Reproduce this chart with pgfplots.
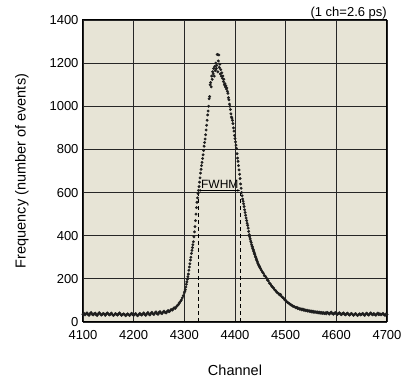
\documentclass[border=0pt]{standalone}
\usepackage{pgfplots}
\pgfplotsset{compat=1.18}
\usepackage{fontspec}
\setmainfont{Liberation Sans}
\usetikzlibrary{arrows.meta}
\definecolor{bg}{RGB}{231,228,214}
\definecolor{dots}{RGB}{30,30,30}
\begin{document}
\begin{tikzpicture}
\begin{axis}[
  at={(0,0)}, anchor=south west,
  scale only axis, width=304pt, height=302pt,
  xmin=4100, xmax=4700, ymin=0, ymax=1400,
  xtick={4100,4200,...,4700}, ytick={0,200,...,1400},
  grid=major, major grid style={black!85, line width=0.75pt},
  major tick length=0pt,
  axis background/.style={fill=bg},
  axis line style={black, line width=1pt},
  /pgf/number format/assume math mode=true,
  /pgf/number format/1000 sep={},
  tick label style={font=\fontsize{13}{15}\selectfont},
  xticklabel style={yshift=-5pt},
  yticklabel style={xshift=-1pt},
  xlabel={Channel}, ylabel={Frequency (number of events)},
  label style={font=\fontsize{14.5}{16}\selectfont},
  xlabel style={at={(axis description cs:0.5,-0.159)}, anchor=center},
  ylabel style={at={(axis description cs:-0.2007,0.5)}, anchor=center},
  clip=false,
]
\addplot[only marks, mark=*, mark size=1.25pt, draw=dots, fill=dots] table {
4100 36
4102 40
4104 33
4106 38
4108 42
4110 35
4112 31
4114 39
4116 44
4118 36
4120 33
4122 38
4124 41
4126 34
4128 30
4130 37
4132 43
4134 38
4136 32
4138 35
4140 40
4142 36
4144 31
4146 38
4148 42
4150 37
4152 33
4154 36
4156 41
4158 35
4160 30
4162 34
4164 39
4166 36
4168 32
4170 37
4172 42
4174 36
4176 31
4178 34
4180 38
4182 35
4184 29
4186 33
4188 38
4190 34
4192 30
4194 36
4196 40
4198 34
4200 31
4202 35
4204 39
4206 33
4208 29
4210 34
4212 40
4214 36
4216 32
4218 37
4220 42
4222 35
4224 31
4226 38
4228 44
4230 37
4232 33
4234 40
4236 45
4238 38
4240 35
4242 42
4244 47
4246 39
4248 36
4250 44
4252 48
4254 41
4256 39
4258 46
4260 50
4262 44
4264 42
4266 49
4268 53
4270 48
4272 52
4274 58
4276 55
4278 60
4280 66
4282 63
4284 70
4286 76
4288 80
4290 88
4292 95
4294 102
4296 112
4298 122
4300 135
4301 142
4302 150
4303 162
4304 175
4305 186
4306 198
4307 210
4308 222
4309 240
4310 255
4311 270
4312 287
4313 300
4314 318
4315 332
4316 345
4317 358
4318 372
4319 395
4320 418
4321 442
4322 470
4323 500
4324 530
4325 555
4326 575
4327 595
4328 610
4329 628
4330 648
4331 668
4332 690
4333 708
4334 725
4335 740
4336 758
4337 775
4338 795
4339 815
4340 832
4341 848
4342 868
4343 890
4344 912
4345 935
4346 960
4347 978
4348 1000
4349 1035
4350 1045
4351 1100
4352 1110
4353 1090
4354 1140
4355 1125
4356 1160
4357 1150
4358 1175
4359 1140
4360 1185
4361 1165
4362 1200
4363 1175
4364 1190
4365 1240
4366 1160
4367 1210
4368 1238
4369 1180
4370 1195
4371 1150
4372 1170
4373 1140
4374 1155
4375 1130
4376 1140
4377 1115
4378 1125
4379 1100
4380 1105
4381 1090
4382 1095
4383 1080
4384 1085
4385 1070
4386 1060
4387 1040
4388 1030
4389 1010
4390 1000
4391 985
4392 965
4393 950
4394 945
4395 935
4396 920
4397 900
4398 885
4399 865
4400 850
4401 835
4402 820
4403 805
4404 780
4405 760
4406 745
4407 725
4408 705
4409 685
4410 665
4411 640
4412 620
4413 600
4414 585
4415 570
4416 560
4417 548
4418 535
4419 520
4420 508
4421 495
4422 482
4423 470
4424 458
4425 448
4426 435
4427 420
4428 405
4429 395
4430 385
4431 375
4432 368
4433 358
4434 350
4435 342
4436 335
4437 328
4438 320
4439 314
4440 305
4441 300
4442 292
4443 286
4444 280
4445 273
4446 268
4447 262
4448 258
4449 254
4450 248
4452 240
4454 232
4456 226
4458 215
4460 212
4462 204
4464 195
4466 190
4468 180
4470 176
4472 168
4474 162
4476 158
4478 150
4480 146
4482 140
4484 135
4486 132
4488 126
4490 128
4492 118
4494 114
4496 110
4498 103
4500 100
4502 95
4504 90
4506 88
4508 84
4510 80
4512 78
4514 74
4516 72
4518 70
4520 66
4522 68
4524 62
4526 64
4528 59
4530 61
4532 56
4534 60
4536 54
4538 57
4540 52
4542 55
4544 50
4546 53
4548 48
4550 51
4552 46
4554 50
4556 45
4558 48
4560 44
4562 47
4564 42
4566 46
4568 41
4570 45
4572 40
4574 44
4576 39
4578 43
4580 38
4582 45
4584 41
4586 37
4588 42
4590 46
4592 39
4594 36
4596 41
4598 44
4600 38
4602 35
4604 40
4606 43
4608 37
4610 34
4612 39
4614 42
4616 36
4618 33
4620 38
4622 41
4624 35
4626 32
4628 37
4630 40
4632 35
4634 31
4636 36
4638 39
4640 34
4642 30
4644 35
4646 38
4648 33
4650 36
4652 40
4654 34
4656 31
4658 37
4660 41
4662 35
4664 32
4666 38
4668 42
4670 36
4672 33
4674 39
4676 35
4678 31
4680 37
4682 41
4684 34
4686 38
4688 33
4690 36
4692 40
4694 34
4696 31
4698 37
4700 35
};
\draw[black, dashed, dash pattern=on 4pt off 3pt, line width=0.6pt] (axis cs:4327,0) -- (axis cs:4327,610);
\draw[black, dashed, dash pattern=on 4pt off 3pt, line width=0.6pt] (axis cs:4410,0) -- (axis cs:4410,610);
\draw[black, line width=0.6pt, {Stealth[length=3pt,width=2.5pt]}-{Stealth[length=3pt,width=2.5pt]}] (axis cs:4327,610) -- (axis cs:4410,610);
\node[font=\fontsize{12}{14}\selectfont, anchor=south, inner sep=1pt] at (axis cs:4370,612) {FWHM};
\node[font=\fontsize{13}{15}\selectfont, anchor=south east, inner sep=0pt, yshift=0.5pt] at (axis description cs:1,1) {(1 ch=2.6 ps)};
\end{axis}
\pgfresetboundingbox
\path (-83pt,-57pt) rectangle (334pt,322pt);
\end{tikzpicture}
\end{document}
